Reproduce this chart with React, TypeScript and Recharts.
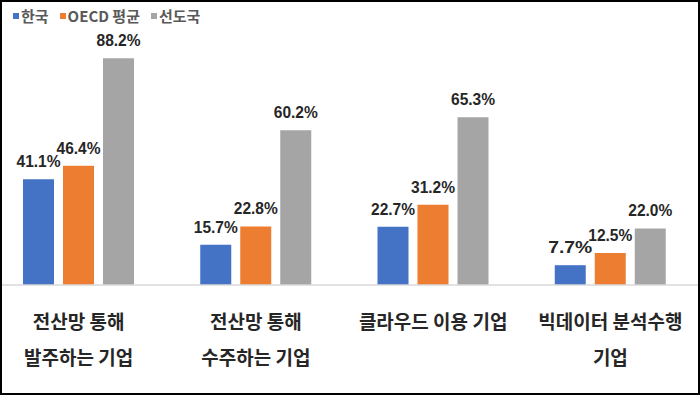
import React from 'react';
import { BarChart, Bar, XAxis, YAxis, LabelList } from 'recharts';

const CATEGORIES = [
  ['전산망 통해', '발주하는 기업'],
  ['전산망 통해', '수주하는 기업'],
  ['클라우드 이용 기업'],
  ['빅데이터 분석수행', '기업'],
];
const KOREA = [41.1, 15.7, 22.7, 7.7];
const OECD = [46.4, 22.8, 31.2, 12.5];
const LEADERS = [88.2, 60.2, 65.3, 22.0];

const SERIES = [
  { key: 'korea', name: '한국', color: '#4472C4' },
  { key: 'oecd', name: 'OECD 평균', color: '#ED7D31' },
  { key: 'leaders', name: '선도국', color: '#A5A5A5' },
];

const data = CATEGORIES.map((c, i) => ({
  name: c.join('\n'),
  korea: KOREA[i],
  oecd: OECD[i],
  leaders: LEADERS[i],
}));

const KR_FONT = '"Noto Sans CJK KR", "Noto Sans", sans-serif';
const NUM_FONT = '"Liberation Sans", "Noto Sans", sans-serif';

function CategoryTick({ x, y, payload }: any) {
  const lines = String(payload.value).split('\n');
  return (
    <g>
      {lines.map((l, i) => (
        <text
          key={i}
          x={x}
          y={y + 44 + i * 36}
          textAnchor="middle"
          fontSize={19}
          fontWeight={700}
          fontFamily={KR_FONT}
          fill="#262626"
        >
          {l}
        </text>
      ))}
    </g>
  );
}

function ValueLabel({ x, y, width, value }: any) {
  const cx = x + width / 2;
  return (
    <text
      x={cx - 22}
      y={y - 12}
      textLength={44}
      lengthAdjust="spacingAndGlyphs"
      fontSize={16}
      fontWeight={700}
      fontFamily={NUM_FONT}
      fill="#262626"
    >
      {Number(value).toFixed(1)}%
    </text>
  );
}

export default function App() {
  return (
    <div
      style={{
        position: 'absolute',
        left: 0,
        top: 0,
        width: 700,
        height: 395,
        border: '2px solid #000',
        boxSizing: 'border-box',
        overflow: 'hidden',
        background: '#fff',
      }}
    >
      <div style={{ position: 'absolute', left: 11, top: 3, display: 'flex', gap: 11, fontFamily: KR_FONT, fontSize: 15, fontWeight: 700, color: '#595959' }}>
        {SERIES.map((s) => (
          <div key={s.key} style={{ display: 'flex', alignItems: 'center' }}>
            <span style={{ width: 6, height: 6, background: s.color, marginRight: 2, display: 'inline-block' }} />
            {s.name}
          </div>
        ))}
      </div>
      <div style={{ position: 'absolute', left: -12, top: 0 }}>
        <BarChart
          width={709}
          height={391}
          data={data}
          margin={{ top: 26, right: 0, bottom: 0, left: 0 }}
          barCategoryGap={33}
          barGap={9}
        >
          <XAxis
            dataKey="name"
            height={108}
            interval={0}
            tickLine={false}
            tickSize={0}
            tickMargin={0}
            axisLine={{ stroke: '#d9d9d9', strokeWidth: 1.5 }}
            tick={<CategoryTick />}
          />
          <YAxis hide domain={[0, 100]} />
          {SERIES.map((s) => (
            <Bar key={s.key} dataKey={s.key} name={s.name} fill={s.color} isAnimationActive={false}>
              <LabelList dataKey={s.key} content={<ValueLabel />} />
            </Bar>
          ))}
        </BarChart>
      </div>
    </div>
  );
}
